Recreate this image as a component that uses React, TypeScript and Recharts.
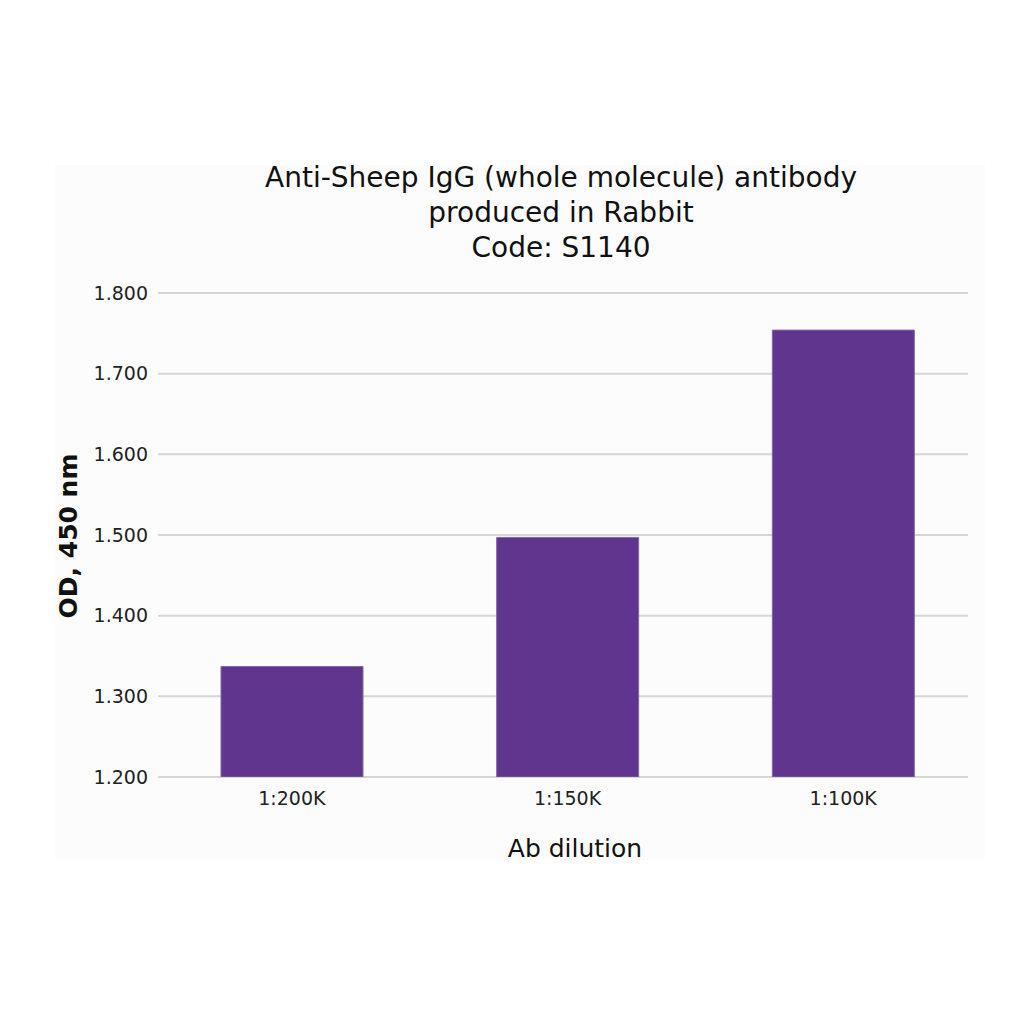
import React from 'react';
import { BarChart, Bar, XAxis, YAxis, CartesianGrid } from 'recharts';

const categories = ['1:200K', '1:150K', '1:100K'];
const odValues = [1.337, 1.497, 1.754];
const yTicks = [1.2, 1.3, 1.4, 1.5, 1.6, 1.7, 1.8];
const titleLines = ['Anti-Sheep IgG (whole molecule) antibody', 'produced in Rabbit', 'Code: S1140'];
const xLabel = 'Ab dilution';
const yLabel = 'OD, 450 nm';

const data = categories.map((c, i) => ({ dilution: c, od: odValues[i] }));

const FONT = '"DejaVu Sans", Verdana, sans-serif';

export default function App() {
  return (
    <div style={{ position: 'absolute', left: 0, top: 0, width: 1024, height: 1024, background: '#ffffff', fontFamily: FONT }}>
      <div style={{ position: 'absolute', left: 55, top: 165, width: 930, height: 695, background: '#fcfcfc' }} />
      <div style={{ position: 'absolute', left: 0, top: 0 }}>
        <BarChart width={1024} height={1024} data={data} margin={{ top: 293, right: 43, bottom: 217, left: 0 }}>
          <CartesianGrid vertical={false} horizontal={true} x={158} width={810} stroke="#d6d6d6" strokeWidth={2} />
          <XAxis
            dataKey="dilution"
            height={30}
            axisLine={false}
            tickLine={false}
            tickSize={0}
            tickMargin={15}
            tick={{ fontSize: 19, fill: '#222222', fontFamily: FONT }}
          />
          <YAxis
            width={154}
            domain={[1.2, 1.8]}
            ticks={yTicks}
            allowDataOverflow
            axisLine={false}
            tickLine={false}
            tickSize={0}
            tickMargin={6}
            tickFormatter={(v: number) => v.toFixed(3)}
            tick={{ fontSize: 19, fill: '#222222', fontFamily: FONT }}
          />
          <Bar dataKey="od" fill="#5f358e" stroke="#8466ad" strokeWidth={1} barSize={142} isAnimationActive={false} />
        </BarChart>
      </div>
      <svg width={1024} height={1024} style={{ position: 'absolute', left: 0, top: 0, pointerEvents: 'none' }}>
        {titleLines.map((t, i) => (
          <text key={i} x={561} y={187 + i * 35} textAnchor="middle" fontSize={28} fill="#111111" fontFamily={FONT}>
            {t}
          </text>
        ))}
        <text x={575} y={857} textAnchor="middle" fontSize={25} fill="#111111" fontFamily={FONT}>
          {xLabel}
        </text>
        <text x={77} y={536} textAnchor="middle" fontSize={25} fontWeight="bold" fill="#111111" fontFamily={FONT} transform="rotate(-90 77 536)">
          {yLabel}
        </text>
      </svg>
    </div>
  );
}
